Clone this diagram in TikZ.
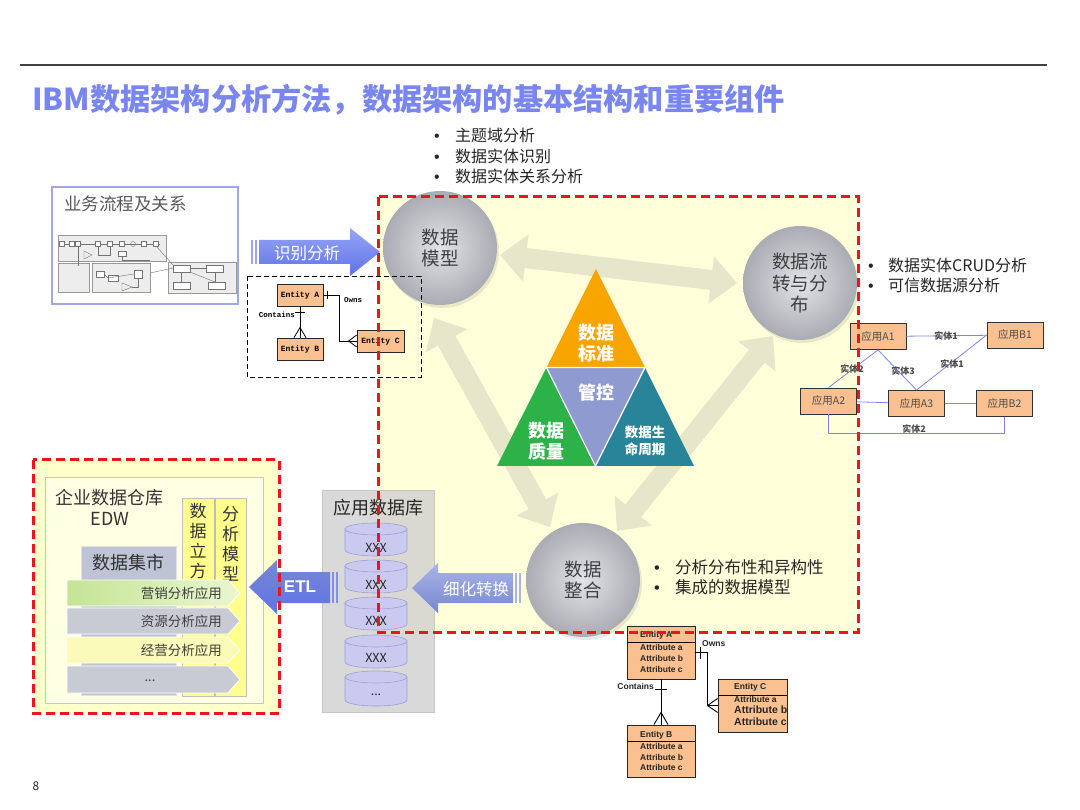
\documentclass[tikz,border=0pt]{standalone}
\usepackage{fontspec}
\setmainfont{Noto Sans CJK SC}
\newfontfamily\arialf{Liberation Sans}
\newfontfamily\monof{Liberation Mono}
\usetikzlibrary{arrows.meta,shadows}
\newcommand\mydots{...}
\newcommand\mybul[1]{\makebox[#1][l]{\arialf •}}
\definecolor{titleblue}{RGB}{122,134,240}
\definecolor{redd}{RGB}{234,22,30}
\definecolor{ybg}{RGB}{255,255,218}
\definecolor{ybg2}{RGB}{255,255,204}
\definecolor{ybg3}{RGB}{255,255,228}
\definecolor{palec}{RGB}{230,230,202}
\definecolor{circin}{RGB}{226,227,231}
\definecolor{circout}{RGB}{170,172,179}
\definecolor{txtg}{RGB}{64,64,64}
\definecolor{entor}{RGB}{250,192,143}
\definecolor{lnkb}{RGB}{128,132,228}
\definecolor{orangeT}{RGB}{249,165,0}
\definecolor{blueT}{RGB}{143,155,208}
\definecolor{greenT}{RGB}{45,178,74}
\definecolor{tealT}{RGB}{40,132,152}
\definecolor{arrA}{RGB}{150,165,246}
\definecolor{arrB}{RGB}{95,115,232}
\definecolor{arrC}{RGB}{168,180,232}
\definecolor{arrD}{RGB}{120,136,208}
\definecolor{dbg}{RGB}{208,208,208}
\definecolor{cylf}{RGB}{202,202,240}
\definecolor{cyld}{RGB}{160,160,210}
\definecolor{martc}{RGB}{190,196,214}
\definecolor{colY}{RGB}{255,255,140}
\definecolor{chGa}{RGB}{196,228,150}
\definecolor{chGb}{RGB}{234,247,208}
\definecolor{chGray}{RGB}{200,203,212}
\definecolor{chY}{RGB}{250,250,185}
\definecolor{bizb}{RGB}{160,168,224}
\begin{document}
\begin{tikzpicture}[x=1pt,y=-1pt,
  circ/.style={circle, minimum size=114pt, inner sep=0pt, shading=radial, inner color=circin, outer color=circout,
    text=txtg, font=\fontsize{18.5}{21.5}\selectfont, align=center,
    drop shadow={shadow xshift=2pt, shadow yshift=-3pt, opacity=0.18}},
  pale/.style={draw=palec, line width=20pt, {Triangle[width=46pt,length=26pt]}-{Triangle[width=46pt,length=26pt]}},
  tritxt/.style={text=white, font=\bfseries\fontsize{18}{21}\selectfont, align=center, inner sep=0pt},
  ent/.style={draw=black!85, fill=entor, minimum width=46pt, minimum height=22pt, inner sep=0pt, line width=0.8pt,
    font=\monof\bfseries\fontsize{8}{9}\selectfont},
  entb/.style={draw=black!85, fill=entor, minimum width=68pt, minimum height=53pt, inner sep=0pt, line width=0.9pt},
  etxt/.style={anchor=west, inner sep=0pt, font=\arialf\bfseries\fontsize{8.5}{9}\selectfont, text=black!85},
  app/.style={draw=black!80, fill=entor, minimum width=56pt, minimum height=26pt, inner sep=0pt, line width=0.8pt,
    font=\fontsize{10.5}{12}\selectfont, text=black!70},
  lnk/.style={draw=lnkb, line width=0.8pt},
  lnklbl/.style={font=\bfseries\fontsize{9}{10}\selectfont, text=black!70, inner sep=0pt},
  bul/.style={anchor=north west, align=left, inner sep=0pt, text=black!85},
  reddash/.style={draw=redd, line width=3pt, dash pattern=on 9pt off 5pt},
  chev/.style={draw=white, line width=0.8pt},
  chtxt/.style={anchor=east, inner sep=0pt, font=\fontsize{13.5}{14}\selectfont, text=black!75},
  cyl/.style={fill=cylf, draw=cyld, line width=0.6pt},
  ]
\useasboundingbox[fill=white] (0,0) rectangle (1080,810);

% header
\draw[line width=1.5pt, black!75] (20,65) -- (1047,65);
\node[anchor=west, text=titleblue, font=\bfseries\fontsize{30.2}{31}\selectfont, inner sep=0pt] (title) at (32,100)
  {IBM数据架构分析方法，数据架构的基本结构和重要组件};

% main yellow area
\fill[ybg] (378,197) rectangle (858,632);
% EDW area
\fill[ybg2] (33,460) rectangle (279,713);

% pale double arrows
\coordinate (pa1) at (500,255); \coordinate (pa2) at (737,283);
\coordinate (pb1) at (434,318); \coordinate (pb2) at (550,527);
\coordinate (pc1) at (773,336); \coordinate (pc2) at (617,531);
\draw[pale] (pa1) -- (pa2);
\draw[pale] (pb1) -- (pb2);
\draw[pale] (pc1) -- (pc2);

% governance triangle
\coordinate (tA) at (596,269); \coordinate (tL) at (497,466); \coordinate (tR) at (694,466);
\coordinate (mL) at (546.5,367.5); \coordinate (mR) at (645,367.5); \coordinate (mB) at (595.5,466);
\fill[orangeT] (tA) -- (mL) -- (mR) -- cycle;
\fill[blueT] (mL) -- (mR) -- (mB) -- cycle;
\fill[greenT] (mL) -- (mB) -- (tL) -- cycle;
\fill[tealT] (mR) -- (tR) -- (mB) -- cycle;
\draw[white, line width=1.2pt] (mL) -- (mR) -- (mB) -- cycle;
\node[tritxt] (tstd) at (596,343) {数据\\标准};
\node[tritxt] (tgov) at (596,393) {管控};
\node[tritxt] (tqual) at (546,441) {数据\\质量};
\node[tritxt, font=\bfseries\fontsize{13.5}{17}\selectfont] (tlife) at (645,441) {数据生\\命周期};

% circles
\node[circ] (dm) at (440,248) {数据\\模型};
\node[circ] (dl) at (800,283) {数据流\\转与分\\布};
\node[circ] (dz) at (583,580) {数据\\整合};

% bullets
\node[bul, font=\fontsize{16}{20.5}\selectfont] (topb) at (434,128)
  {\mybul{21pt}主题域分析\\\mybul{21pt}数据实体识别\\\mybul{21pt}数据实体关系分析};
\node[bul, font=\fontsize{16}{20}\selectfont] (rgtb) at (868,258)
  {\mybul{20pt}数据实体CRUD分析\\\mybul{20pt}可信数据源分析};
\node[bul, font=\fontsize{16.5}{20}\selectfont] (botb) at (654,559)
  {\mybul{21pt}分析分布性和异构性\\\mybul{21pt}集成的数据模型};

% right application graph
\node[app] (a1) at (878,336.5) {应用A1};
\node[app] (b1) at (1015,335) {应用B1};
\node[app] (a2) at (828.5,401) {应用A2};
\node[app] (a3) at (916.5,403.5) {应用A3};
\node[app] (b2) at (1004.5,403.5) {应用B2};
\draw[lnk] (a1) -- (b1);
\draw[lnk] (a1.south) -- (a2.north);
\draw[lnk] (a1.south) -- (a3.north);
\draw[lnk] (a3.north) -- (b1.west);
\draw[lnk] (a2) -- (a3);
\draw[lnk] (a3) -- (b2);
\draw[lnk] (a2.south) -- ++(0,19) -| (b2.south);
\node[lnklbl] (l1) at (946,336) {实体1};
\node[lnklbl] (l2) at (852,369) {实体2};
\node[lnklbl] (l3) at (903,371) {实体3};
\node[lnklbl] (l4) at (952,364) {实体1};
\node[lnklbl] (l5) at (914,429) {实体2};

% business process box
\node[draw=bizb, line width=1.2pt, fill=white, minimum width=186pt, minimum height=117pt, inner sep=0pt] (biz) at (145,245.5) {};
\node[anchor=west, inner sep=0pt, text=black!65, font=\fontsize{17.5}{18}\selectfont] (bizt) at (64,204) {业务流程及关系};
\begin{scope}[line width=0.4pt]
\filldraw[fill=black!7, draw=black!40] (58,235) rectangle (166,261);
\filldraw[fill=black!7, draw=black!40] (58,263) rectangle (89,292);
\filldraw[fill=black!7, draw=black!40] (92,263) rectangle (150,292);
\filldraw[fill=black!7, draw=black!40] (168,262) rectangle (236,293);
\draw[black!55] (62,244) -- (160,244);
\foreach \x in {62,72,78,98,110,122,144,156}
  \filldraw[fill=white, draw=black!55] ({\x-2.5},241.5) rectangle ({\x+2.5},246.5);
\draw[black!55] (133,244) circle (2.5);
\draw[black!55] (84,251) -- (92,255) -- (84,259) -- cycle;
\filldraw[fill=white, draw=black!55] (118,251) rectangle (126,256);
\draw[black!55] (78,246) -- (78,266);
\draw[black!55] (98,246) -- (98,255) -- (110,255) -- (110,246);
\draw[black!55] (122,256) -- (122,260) -- (150,260);
\draw[black!55] (156,246) -- (174,266);
\filldraw[fill=white, draw=black!55] (96,271) rectangle (104,277);
\filldraw[fill=white, draw=black!55] (108,275) rectangle (118,281);
\filldraw[fill=white, draw=black!55] (134,270) rectangle (142,278);
\draw[black!55] (122,283) -- (132,287) -- (122,291) -- cycle;
\draw[black!55] (104,274) -- (108,278) -- (134,274);
\draw[black!55] (138,278) -- (138,287) -- (132,287);
\draw[black!55] (150,273) -- (173,268);
\filldraw[fill=white, draw=black!55] (173,265) rectangle (190,272);
\filldraw[fill=white, draw=black!55] (206,265) rectangle (223,272);
\filldraw[fill=white, draw=black!55] (173,282) rectangle (190,289);
\filldraw[fill=white, draw=black!55] (208,282) rectangle (225,289);
\draw[black!55] (190,268.5) -- (206,268.5);
\draw[black!55] (181,272) -- (181,282);
\draw[black!55] (190,272) -- (215,282);
\draw[black!55] (215,272) -- (215,282);
\end{scope}

% identify arrow
\path[top color=arrA, bottom color=arrB] (259,240) -- (350,240) -- (350,228) -- (380,252) -- (350,276) -- (350,264) -- (259,264) -- cycle;
\fill[arrA] (251,240) rectangle (253,264);
\fill[arrA] (255,240) rectangle (257,264);
\node[text=white, font=\fontsize{16.5}{17}\selectfont, inner sep=0pt] (idt) at (307,253) {识别分析};

% small ER in dashed box
\draw[black, line width=0.9pt, dash pattern=on 5pt off 3pt] (247,276) rectangle (421,377);
\node[ent] (ea) at (300,295) {Entity A};
\node[ent] (eb) at (300,349) {Entity B};
\node[ent, minimum width=47pt] (ec) at (380.5,341) {Entity C};
\draw[line width=0.8pt] (ea.south) -- (eb.north);
\draw[line width=0.8pt] (eb.north) ++(-6,0) -- ++(6,-10) -- ++(6,10);
\draw[line width=0.8pt] (ea.south) ++(-5,6) -- ++(10,0);
\draw[line width=0.8pt] (ea.east) -- ++(16,0) |- (ec.west);
\draw[line width=0.8pt] (ea.east) ++(4,-4) -- ++(0,8);
\draw[line width=0.8pt] (ec.west) ++(0,-6) -- ++(-8,6) -- ++(8,6);
\node[font=\monof\bfseries\fontsize{7.5}{8}\selectfont, inner sep=0pt] (lcon) at (277,315) {Contains};
\node[font=\monof\bfseries\fontsize{7.5}{8}\selectfont, inner sep=0pt] (lown) at (353,300) {Owns};

% application database
\filldraw[fill=dbg, fill opacity=0.8, draw=black!22, line width=0.8pt] (322,490) rectangle (434,712);
\node[font=\fontsize{18}{19}\selectfont, text=black!85, inner sep=0pt] (dbt) at (378,508) {应用数据库};
\foreach \yt/\yb/\ty/\lab/\nm in {529/550/548/XXX/c1, 566/587/585/XXX/c2, 603/624/621/XXX/c3, 641/662/658/XXX/c4, 677/700/695/\mydots/c5}{
  \path[cyl] (345,\yt) -- (345,\yb) arc[start angle=180, end angle=0, x radius=31, y radius=6] -- (407,\yt) -- cycle;
  \path[cyl] (376,\yt) ellipse[x radius=31, y radius=6];
  \node[font=\fontsize{12.5}{13}\selectfont, text=black!85, inner sep=0pt] (\nm) at (376,\ty) {\lab};
}

% EDW content
\node[draw=black!22, fill=ybg3, line width=1pt, minimum width=218pt, minimum height=225pt, inner sep=0pt] (edw) at (154,590.5) {};
\node[font=\fontsize{18}{21}\selectfont, align=center, text=black!80, inner sep=0pt] (edwt) at (110,507) {企业数据仓库\\EDW};
\node[fill=martc, draw=black!12, minimum width=95pt, minimum height=149pt, inner sep=0pt] (mart) at (128.5,620.5) {};
\node[font=\fontsize{18}{19}\selectfont, text=black!80, inner sep=0pt] (martt) at (128,563) {数据集市};
\node[fill=colY, draw=black!25, minimum width=32pt, minimum height=198pt, inner sep=0pt] (cube) at (198,597) {};
\node[fill=colY, draw=black!25, minimum width=31pt, minimum height=198pt, inner sep=0pt] (anm) at (230.5,597) {};
\node[anchor=north, font=\fontsize{17}{20}\selectfont, align=center, text=black!80, inner sep=0pt] (cubet) at (198,503) {数\\据\\立\\方\\体};
\node[anchor=north, font=\fontsize{17}{20}\selectfont, align=center, text=black!80, inner sep=0pt] (anmt) at (230.5,506) {分\\析\\模\\型};
\path[chev, left color=chGa, right color=chGb] (67,580) -- (228,580) -- (240,593) -- (228,606) -- (67,606) -- cycle;
\path[chev, fill=chGray] (67,608) -- (228,608) -- (240,621) -- (228,634) -- (67,634) -- cycle;
\path[chev, fill=chY] (67,637) -- (228,637) -- (240,650) -- (228,663) -- (67,663) -- cycle;
\path[chev, fill=chGray] (67,666) -- (228,666) -- (240,679.5) -- (228,693) -- (67,693) -- cycle;
\node[chtxt] (ch1) at (222,593) {营销分析应用};
\node[chtxt] (ch2) at (222,621) {资源分析应用};
\node[chtxt] (ch3) at (222,650) {经营分析应用};
\node[anchor=center, inner sep=0pt, font=\fontsize{13}{14}\selectfont, text=black!75] (ch4) at (150,681) {\mydots};

% ETL arrow
\path[top color=arrD, bottom color=arrB] (249,587) -- (277,560) -- (277,572) -- (330,572) -- (330,603) -- (277,603) -- (277,614) -- cycle;
\fill[arrB!80] (332,572) rectangle (334,603);
\fill[arrB!80] (336,572) rectangle (338,603);
\node[text=white, font=\arialf\bfseries\fontsize{17}{18}\selectfont, inner sep=0pt] (etl) at (300,587) {ETL};

% refine arrow
\path[top color=arrC, bottom color=arrD] (412,588) -- (438,563) -- (438,573) -- (513,573) -- (513,603) -- (438,603) -- (438,613) -- cycle;
\fill[arrC] (515,573) rectangle (517,603);
\fill[arrC] (519,573) rectangle (521,603);
\node[text=white, font=\fontsize{16.5}{17}\selectfont, inner sep=0pt] (rft) at (476,589) {细化转换};

% bottom ER
\node[entb] (EA) at (661,652.5) {};
\node[entb, minimum width=69pt] (EC) at (752.5,705.5) {};
\node[entb, minimum height=52pt] (EB) at (661,751) {};
\draw[line width=0.9pt] (627,642) -- (695,642);
\draw[line width=0.9pt] (718,695) -- (787,695);
\draw[line width=0.9pt] (627,741) -- (695,741);
\node[etxt] (eat) at (640,635) {Entity A};
\node[etxt] (ea1) at (640,647.5) {Attribute a};
\node[etxt] (ea2) at (640,658.5) {Attribute b};
\node[etxt] (ea3) at (640,669.5) {Attribute c};
\node[etxt] (ect) at (734,687) {Entity C};
\node[etxt] (ec1) at (734,699) {Attribute a};
\node[etxt, font=\arialf\bfseries\fontsize{10.5}{11}\selectfont] (ec2) at (734,710) {Attribute b};
\node[etxt, font=\arialf\bfseries\fontsize{10.5}{11}\selectfont] (ec3) at (734,722) {Attribute c};
\node[etxt] (ebt) at (640,735) {Entity B};
\node[etxt] (eb1) at (640,746.5) {Attribute a};
\node[etxt] (eb2) at (640,757) {Attribute b};
\node[etxt] (eb3) at (640,767.5) {Attribute c};
\draw[line width=0.9pt] (EA.south) -- (EB.north);
\draw[line width=0.9pt] (EB.north) ++(-7,0) -- ++(7,-12) -- ++(7,12);
\draw[line width=0.9pt] (EA.south) ++(-6,10) -- ++(12,0);
\draw[line width=0.9pt] (EA.east) -- ++(12,0) |- (EC.west);
\draw[line width=0.9pt] (EA.east) ++(5,-6) -- ++(0,12);
\draw[line width=0.9pt] (EC.west) ++(0,-7) -- ++(-10,7) -- ++(10,7);
\node[anchor=east, inner sep=0pt, font=\arialf\bfseries\fontsize{8.5}{9}\selectfont, text=black!85] (lcon2) at (654,686) {Contains};
\node[anchor=west, inner sep=0pt, font=\arialf\bfseries\fontsize{8.5}{9}\selectfont, text=black!85] (lown2) at (702,644) {Owns};

% page number
\node[font=\fontsize{12}{12}\selectfont, text=black!85, inner sep=0pt] (pg) at (36,786) {8};

% red dashed frames
\draw[reddash] (378,197) rectangle (858,632);
\draw[reddash] (33,460) rectangle (279,713);
\end{tikzpicture}
\end{document}
